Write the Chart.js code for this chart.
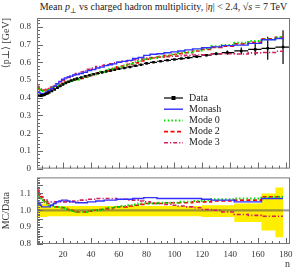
<!DOCTYPE html>
<html>
<head>
<meta charset="utf-8">
<script src="https://cdn.jsdelivr.net/npm/chart.js@4.4.1/dist/chart.umd.min.js"></script>
<style>
  body { margin: 0; background: #fff; width: 299px; height: 270px; overflow: hidden; position: relative; font-family: "Liberation Serif", "Times New Roman", "DejaVu Serif", serif; }
  #title { position: absolute; left: 37px; width: 253px; top: 1px; text-align: center; font-size: 10px; color: #222; white-space: nowrap; line-height: 12px; }
  #title sub { font-size: 7px; line-height: 0; }
  canvas { position: absolute; left: 0; }
</style>
</head>
<body>
<div id="title">Mean <i>p</i><sub>⊥</sub> vs charged hadron multiplicity, |<i>η</i>| &lt; 2.4, √<i>s</i> = 7 TeV</div>
<canvas id="main" width="299" height="180" style="top:0"></canvas>
<canvas id="ratio" width="299" height="104" style="top:166px"></canvas>
<script>
const nch = [2, 3, 4, 5, 6, 7, 8, 9, 10, 12, 14, 16, 18, 20, 22, 24, 26, 28, 30, 33, 36, 39, 42, 45, 48, 51, 54, 57,
  60, 64, 68, 72, 76, 80, 85, 90, 95, 100, 105, 110, 116, 123, 130, 138, 148, 158, 167, 178];

const dataMean = [.415, .413, .412, .413, .415, .418, .422, .426, .430, .438, .447, .456, .466, .475, .483, .490, .497, .503, .508,
  .514, .521, .527, .532, .538, .543, .548, .553, .558, .563, .568, .574, .580, .586, .594, .600, .606, .611, .616, .621, .626,
  .632, .640, .648, .655, .664, .673, .679, .686];
const dataErr = [.002, .002, .002, .002, .002, .002, .002, .002, .002, .002, .002, .002, .002, .002, .002, .002, .002, .002, .002,
  .002, .002, .002, .002, .002, .002, .002, .002, .002, .002, .002, .002, .002, .002, .002, .002, .002, .002, .002, .002, .002,
  .003, .006, .008, .012, .020, .033, .065, .095];

const monash = [.436, .430, .424, .421, .423, .426, .430, .435, .439, .451, .465, .479, .492, .504, .512, .517, .522, .528, .531,
  .537, .544, .553, .559, .568, .573, .581, .586, .591, .600, .605, .611, .621, .627, .639, .645, .648, .654, .659, .664, .670,
  .676, .682, .687, .694, .697, .707, .727, .734];
const mode0 = [.457, .446, .441, .438, .436, .439, .439, .443, .443, .451, .456, .465, .475, .482, .488, .492, .497, .500, .503,
  .509, .516, .524, .532, .538, .546, .553, .561, .569, .574, .582, .591, .600, .609, .618, .624, .633, .638, .644, .652, .657,
  .667, .678, .690, .698, .710, .720, .730, .741];
const mode2 = [.461, .450, .445, .442, .440, .439, .443, .443, .447, .451, .456, .465, .475, .482, .488, .492, .497, .500, .503,
  .509, .516, .524, .532, .538, .546, .553, .559, .566, .574, .579, .588, .597, .607, .618, .624, .630, .638, .644, .649, .654,
  .664, .672, .684, .691, .704, .713, .733, .741];
const mode3 = [.465, .454, .449, .446, .444, .443, .447, .447, .452, .460, .469, .479, .489, .499, .507, .515, .522, .531, .536,
  .545, .552, .561, .567, .576, .581, .586, .592, .597, .600, .605, .608, .615, .618, .624, .627, .630, .632, .634, .637, .639,
  .641, .643, .648, .648, .647, .653, .655, .662];

// MC / Data
const monashRatio = [1.05, 1.04, 1.03, 1.02, 1.02, 1.02, 1.02, 1.02, 1.02, 1.03, 1.04, 1.05, 1.055, 1.06, 1.06, 1.055, 1.05, 1.05, 1.045,
  1.045, 1.045, 1.05, 1.05, 1.055, 1.055, 1.06, 1.06, 1.06, 1.065, 1.065, 1.065, 1.07, 1.07, 1.075, 1.075, 1.07, 1.07, 1.07, 1.07, 1.07,
  1.07, 1.065, 1.06, 1.06, 1.05, 1.05, 1.07, 1.07];
const mode0Ratio = [1.10, 1.08, 1.07, 1.06, 1.05, 1.05, 1.04, 1.04, 1.03, 1.03, 1.02, 1.02, 1.02, 1.015, 1.01, 1.005, 1.0, 0.995, 0.99,
  0.99, 0.99, 0.995, 1.0, 1.0, 1.005, 1.01, 1.015, 1.02, 1.02, 1.025, 1.03, 1.035, 1.04, 1.04, 1.04, 1.045, 1.045, 1.045, 1.05, 1.05,
  1.055, 1.06, 1.065, 1.065, 1.07, 1.07, 1.075, 1.08];
const mode2Ratio = [1.11, 1.09, 1.08, 1.07, 1.06, 1.05, 1.05, 1.04, 1.04, 1.03, 1.02, 1.02, 1.02, 1.015, 1.01, 1.005, 1.0, 0.995, 0.99,
  0.99, 0.99, 0.995, 1.0, 1.0, 1.005, 1.01, 1.01, 1.015, 1.02, 1.02, 1.025, 1.03, 1.035, 1.04, 1.04, 1.04, 1.045, 1.045, 1.045, 1.045,
  1.05, 1.05, 1.055, 1.055, 1.06, 1.06, 1.08, 1.08];
const mode3Ratio = [1.12, 1.10, 1.09, 1.08, 1.07, 1.06, 1.06, 1.05, 1.05, 1.05, 1.05, 1.05, 1.05, 1.05, 1.05, 1.05, 1.05, 1.055, 1.055,
  1.06, 1.06, 1.065, 1.065, 1.07, 1.07, 1.07, 1.07, 1.07, 1.065, 1.065, 1.06, 1.06, 1.055, 1.05, 1.045, 1.04, 1.035, 1.03, 1.025, 1.02,
  1.015, 1.005, 1.0, 0.99, 0.975, 0.97, 0.965, 0.965];
const bandHi = [1.05, 1.045, 1.04, 1.04, 1.04, 1.04, 1.04, 1.03, 1.03, 1.025, 1.025, 1.025, 1.025, 1.025, 1.025, 1.025, 1.025, 1.025, 1.025,
  1.025, 1.025, 1.025, 1.025, 1.025, 1.025, 1.025, 1.025, 1.025, 1.025, 1.025, 1.025, 1.025, 1.025, 1.025, 1.025, 1.025, 1.025, 1.025, 1.025, 1.025,
  1.025, 1.03, 1.03, 1.03, 1.04, 1.04, 1.10, 1.135];
const bandLo = [0.955, 0.96, 0.96, 0.96, 0.96, 0.96, 0.96, 0.965, 0.965, 0.965, 0.965, 0.965, 0.965, 0.965, 0.965, 0.965, 0.965, 0.965, 0.965,
  0.965, 0.965, 0.965, 0.965, 0.965, 0.965, 0.965, 0.965, 0.965, 0.965, 0.965, 0.965, 0.965, 0.965, 0.965, 0.965, 0.965, 0.965, 0.965, 0.965, 0.965,
  0.965, 0.96, 0.96, 0.96, 0.93, 0.93, 0.88, 0.84];

const xTicks = [20, 40, 60, 80, 100, 120, 140, 160, 180];
const yMainTicks = [0, 0.1, 0.2, 0.3, 0.4, 0.5, 0.6, 0.7, 0.8];
const yRatioTicks = [0.8, 0.85, 0.9, 0.95, 1.0, 1.05, 1.1, 1.15];

const X_MIN = 1.3, X_MAX = 183;
const FAMILY = "'Liberation Serif', 'Times New Roman', 'DejaVu Serif', serif";
const FONT = { family: FAMILY, size: 9 };
const TXT = '#333';

const pts = arr => nch.map((n, i) => ({ x: n, y: arr[i] }));

const series = [
  { label: 'Monash', main: monash, ratio: monashRatio, color: '#3030ff', dash: [], width: 1.4 },
  { label: 'Mode 0', main: mode0, ratio: mode0Ratio, color: '#00e000', dash: [1.5, 2.2], width: 2 },
  { label: 'Mode 2', main: mode2, ratio: mode2Ratio, color: '#ff0000', dash: [4, 2.5], width: 1.6 },
  { label: 'Mode 3', main: mode3, ratio: mode3Ratio, color: '#d02060', dash: [4, 2, 1.2, 2], width: 1.6 }
];

// ticks pointing into the frame, plus the frame itself
const frame = {
  id: 'frame',
  afterDraw(chart, args, opts) {
    const { ctx, chartArea: a, scales: { x, y } } = chart;
    ctx.save();
    ctx.strokeStyle = '#666';
    ctx.lineWidth = 1;
    ctx.beginPath();
    for (let v = 5; v < X_MAX; v += 5) {
      const px = Math.round(x.getPixelForValue(v)) + 0.5;
      const len = v % 20 === 0 ? 6 : 3;
      ctx.moveTo(px, a.bottom);
      ctx.lineTo(px, a.bottom - len);
    }
    const step = opts.minor;
    for (let v = y.min; v <= y.max + 1e-9; v += step) {
      const py = Math.round(y.getPixelForValue(v)) + 0.5;
      const major = opts.majors.some(m => Math.abs(m - v) < 1e-6);
      ctx.moveTo(a.left, py);
      ctx.lineTo(a.left + (major ? 6 : 3), py);
    }
    ctx.stroke();
    ctx.strokeStyle = '#777';
    ctx.strokeRect(a.left + 0.5, a.top + 0.5, a.width - 1, a.height - 1);
    ctx.restore();
  }
};

const errorBars = {
  id: 'errorBars',
  beforeDatasetsDraw(chart) {
    const { ctx, scales: { x, y } } = chart;
    ctx.save();
    ctx.strokeStyle = '#000';
    ctx.lineWidth = 1.2;
    ctx.beginPath();
    nch.forEach((n, i) => {
      const lo = i > 0 ? (n + nch[i - 1]) / 2 : n - 0.5;
      const hi = i < nch.length - 1 ? (n + nch[i + 1]) / 2 : X_MAX;
      const py = y.getPixelForValue(dataMean[i]);
      ctx.moveTo(x.getPixelForValue(lo), py);
      ctx.lineTo(x.getPixelForValue(hi), py);
      const px = x.getPixelForValue(n);
      ctx.moveTo(px, y.getPixelForValue(dataMean[i] - dataErr[i]));
      ctx.lineTo(px, y.getPixelForValue(dataMean[i] + dataErr[i]));
    });
    ctx.stroke();
    ctx.restore();
  }
};

const legendBox = {
  id: 'legendBox',
  afterDraw(chart) {
    const ctx = chart.ctx;
    const x0 = 164, x1 = 183, tx = 189;
    let yy = 98;
    ctx.save();
    ctx.font = '10px ' + FAMILY;
    ctx.textBaseline = 'middle';
    // data entry
    ctx.strokeStyle = '#000';
    ctx.lineWidth = 1.2;
    ctx.beginPath();
    ctx.moveTo(x0, yy); ctx.lineTo(x1, yy);
    ctx.stroke();
    ctx.fillStyle = '#000';
    ctx.fillRect((x0 + x1) / 2 - 2, yy - 2, 4, 4);
    ctx.fillStyle = '#222';
    ctx.fillText('Data', tx, yy);
    series.forEach(s => {
      yy += 11.2;
      ctx.strokeStyle = s.color;
      ctx.lineWidth = s.width;
      ctx.setLineDash(s.dash);
      ctx.beginPath();
      ctx.moveTo(x0, yy); ctx.lineTo(x1, yy);
      ctx.stroke();
      ctx.setLineDash([]);
      ctx.fillText(s.label, tx, yy);
    });
    ctx.restore();
  }
};

const lineSet = (s, arr) => ({
  label: s.label,
  data: pts(arr),
  borderColor: s.color,
  borderWidth: s.width,
  borderDash: s.dash,
  pointRadius: 0,
  stepped: 'middle',
  fill: false,
  order: 1
});

new Chart(document.getElementById('main'), {
  type: 'line',
  data: {
    datasets: [
      {
        label: 'Data',
        data: pts(dataMean),
        showLine: false,
        pointStyle: 'rect',
        pointRadius: 1.8,
        backgroundColor: '#000',
        borderColor: '#000',
        borderWidth: 0,
        order: 0
      },
      ...series.map(s => lineSet(s, s.main))
    ]
  },
  options: {
    responsive: false,
    animation: false,
    layout: { padding: { top: 18, right: 9, bottom: 11, left: 0 } },
    plugins: {
      legend: { display: false },
      tooltip: { enabled: false },
      frame: { minor: 0.02, majors: yMainTicks }
    },
    scales: {
      x: { type: 'linear', min: X_MIN, max: X_MAX, display: false },
      y: {
        min: 0, max: 0.85,
        afterBuildTicks: s => { s.ticks = yMainTicks.map(v => ({ value: v })); },
        afterFit: s => { s.width = 37; },
        grid: { display: false, drawTicks: false },
        border: { display: false },
        ticks: { font: FONT, color: TXT, padding: 6, callback: v => v === 0 ? '0' : v.toFixed(1) },
        title: { display: true, text: '⟨p⊥⟩ [GeV]', align: 'end', color: TXT, font: { family: FAMILY, size: 10 }, padding: 0 }
      }
    }
  },
  plugins: [frame, errorBars, legendBox]
});

new Chart(document.getElementById('ratio'), {
  type: 'line',
  data: {
    datasets: [
      ...series.map(s => lineSet(s, s.ratio)),
      {
        label: 'unity',
        data: [{ x: X_MIN, y: 1 }, { x: X_MAX, y: 1 }],
        borderColor: 'rgba(80,80,80,0.55)',
        borderWidth: 2.2,
        pointRadius: 0,
        order: 2
      },
      {
        label: 'band hi',
        data: pts(bandHi),
        borderWidth: 0,
        pointRadius: 0,
        stepped: 'middle',
        backgroundColor: '#ffee00',
        fill: '+1',
        order: 3
      },
      {
        label: 'band lo',
        data: pts(bandLo),
        borderWidth: 0,
        pointRadius: 0,
        stepped: 'middle',
        fill: false,
        order: 3
      }
    ]
  },
  options: {
    responsive: false,
    animation: false,
    layout: { padding: { top: 6, right: 9, bottom: 0, left: 0 } },
    plugins: {
      legend: { display: false },
      tooltip: { enabled: false },
      frame: { minor: 0.01, majors: yRatioTicks }
    },
    scales: {
      x: {
        type: 'linear', min: X_MIN, max: X_MAX,
        afterBuildTicks: s => { s.ticks = xTicks.map(v => ({ value: v })); },
        afterFit: s => { s.height = 26; },
        grid: { display: false, drawTicks: false },
        border: { display: false },
        ticks: { font: FONT, color: TXT, padding: 5, maxRotation: 0, autoSkip: false },
        title: { display: true, text: 'n', align: 'end', color: TXT, font: { family: FAMILY, size: 10 }, padding: 0 }
      },
      y: {
        min: 0.8, max: 1.195,
        afterBuildTicks: s => { s.ticks = yRatioTicks.map(v => ({ value: v })); },
        afterFit: s => { s.width = 37; },
        grid: { display: false, drawTicks: false },
        border: { display: false },
        ticks: { font: FONT, color: TXT, padding: 6, callback: v => (Math.round(v * 100) % 10 === 0 ? v.toFixed(1) : v.toFixed(2)) },
        title: { display: true, text: 'MC/Data', color: TXT, font: { family: FAMILY, size: 10 }, padding: 0 }
      }
    }
  },
  plugins: [frame]
});
</script>
</body>
</html>
